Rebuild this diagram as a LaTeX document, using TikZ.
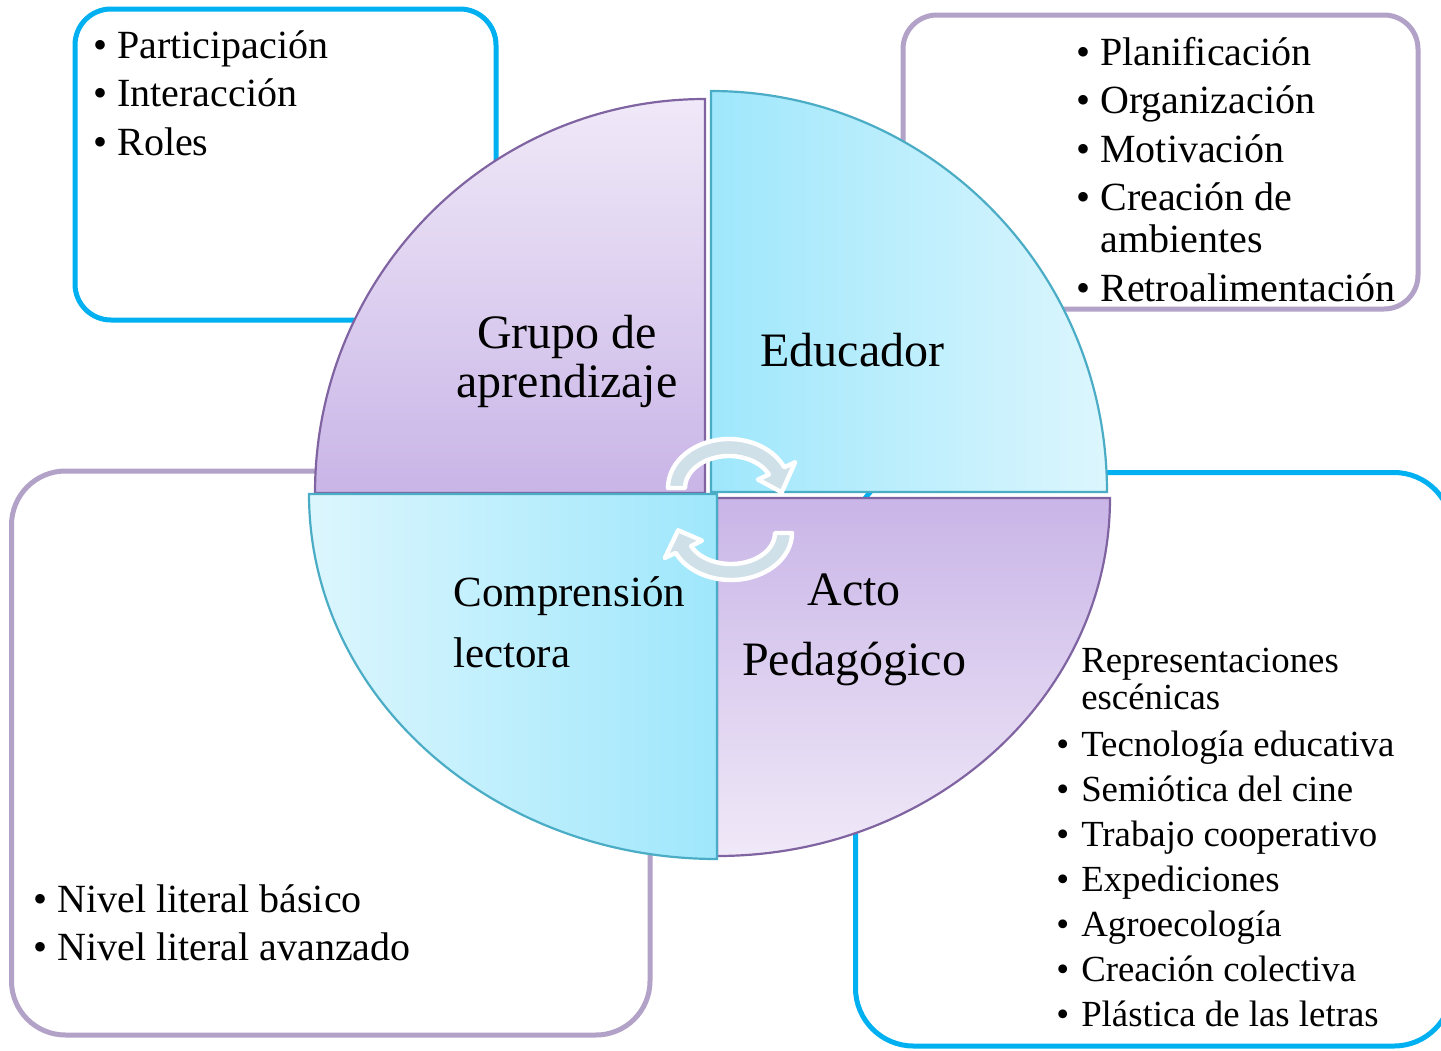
\documentclass[tikz,border=0pt]{standalone}
\usepackage{fontspec}
\setmainfont{Liberation Serif}
\definecolor{boxcyan}{HTML}{00B0F0}
\definecolor{boxlilac}{HTML}{B3A2C7}
\definecolor{quadlilac}{HTML}{8064A2}
\definecolor{quadsky}{HTML}{4BACC6}
\definecolor{lilacdark}{HTML}{C9B5E7}
\definecolor{lilaclight}{HTML}{F0E9F8}
\definecolor{skydark}{HTML}{9FE7FC}
\definecolor{skylight}{HTML}{DCF6FD}
\definecolor{arrowgrey}{HTML}{D0E0E8}
\newcommand\quadrant{}
\def\quadrant[#1](#2)(#3:#4:#5:#6){% \quadrant[draw options](corner)(start angle:end angle:x radius:y radius)
\draw [#1,
       shift={(#2)}] (0,0) -- (#3:#5 and #6)
       arc[start angle=#3, end angle=#4, x radius=#5, y radius=#6] -- cycle
}

\begin{document}
\begin{tikzpicture}[x=0.5pt, y=-0.5pt,
  cyanbox/.style={draw=boxcyan, line width=2.5pt, rounded corners=#1},
  lilacbox/.style={draw=boxlilac, line width=2.5pt, rounded corners=#1},
  lilacquad/.style={draw=quadlilac, line width=1.1pt},
  skyquad/.style={draw=quadsky, line width=1.1pt},
  cyclearrow/.style={fill=arrowgrey, draw=white, line width=2.2pt, line join=round},
  listtext/.style={anchor=base west, inner sep=0pt, font=\fontsize{20}{24.25}\selectfont},
  quadtext/.style={inner sep=0pt, font=\fontsize{24}{24.5}\selectfont}]
	\useasboundingbox (0,0) rectangle (1441,1050);
	%% outer boxes
	\draw[cyanbox=18pt] (75,9) rectangle (496,320);
	\draw[lilacbox=17pt] (903,15) rectangle (1418,309);
	\draw[lilacbox=27pt] (11.5,471) rectangle (650,1035);
	\draw[cyanbox=29pt] (855.5,472.5) rectangle (1452,1046);
	%% circle in four parts
	\quadrant[lilacquad, top color=lilaclight, bottom color=lilacdark](705,493)(180:270:390:394);
	\quadrant[skyquad, left color=skydark, right color=skylight](711,492)(270:360:396:401);
	\quadrant[lilacquad, top color=lilacdark, bottom color=lilaclight](717,498)(0:90:393:358);
	\quadrant[skyquad, left color=skylight, right color=skydark](717,494)(90:180:408:365);
	%% cycle arrows
	\draw[cyclearrow, shift={(729,488)}] (180:61 and 49)
		arc[start angle=180, end angle=335, x radius=61, y radius=49]
		-- (335:73 and 61) -- (6:53 and 41) -- (335:32 and 20) -- (335:44 and 32)
		arc[start angle=335, end angle=180, x radius=44, y radius=32] -- cycle;
	\draw[cyclearrow, shift={(731,533)}] (0:61 and 47)
		arc[start angle=0, end angle=155, x radius=61, y radius=47]
		-- (155:73 and 59) -- (184:53 and 39) -- (155:32 and 18) -- (155:44 and 31)
		arc[start angle=155, end angle=0, x radius=44, y radius=31] -- cycle;
	%% labels in the circle
	\node[quadtext, anchor=base] (grupo) at (567,348)
		{\begin{tabular}[t]{@{}c@{}}Grupo de\\ aprendizaje\end{tabular}};
	\node[quadtext, anchor=base west] (educador) at (760,366) {Educador};
	\node[quadtext, anchor=base west, font=\fontsize{21.5}{30.5}\selectfont] (comprension) at (453,606)
		{\begin{tabular}[t]{@{}l@{}}Comprensión\\ lectora\end{tabular}};
	\node[quadtext, anchor=base, font=\fontsize{24}{35}\selectfont] (acto) at (854,605)
		{\begin{tabular}[t]{@{}c@{}}Acto\\ Pedagógico\end{tabular}};
	%% lists in the boxes
	\node[listtext] (grupolist) at (93,58)
		{\begin{tabular}[t]{@{}l@{\hspace{5pt}}l@{}}
		\textbullet & Participación\\
		\textbullet & Interacción\\
		\textbullet & Roles
		\end{tabular}};
	\node[listtext, font=\fontsize{20}{21}\selectfont] (educlist) at (1076,65)
		{\begin{tabular}[t]{@{}l@{\hspace{5pt}}l@{}}
		\textbullet & Planificación\\[3.25pt]
		\textbullet & Organización\\[3.25pt]
		\textbullet & Motivación\\[3.25pt]
		\textbullet & Creación de\\
		 & ambientes\\[3.25pt]
		\textbullet & Retroalimentación
		\end{tabular}};
	\node[listtext] (comprlist) at (33,912)
		{\begin{tabular}[t]{@{}l@{\hspace{5pt}}l@{}}
		\textbullet & Nivel literal básico\\
		\textbullet & Nivel literal avanzado
		\end{tabular}};
	\node[listtext, font=\fontsize{18.4}{18.5}\selectfont] (actolist) at (1056,672)
		{\begin{tabular}[t]{@{}l@{\hspace{6pt}}l@{}}
		 & Representaciones\\
		 & escénicas\\[5pt]
		\textbullet & Tecnología educativa\\[4pt]
		\textbullet & Semiótica del cine\\[4pt]
		\textbullet & Trabajo cooperativo\\[4pt]
		\textbullet & Expediciones\\[4pt]
		\textbullet & Agroecología\\[4pt]
		\textbullet & Creación colectiva\\[4pt]
		\textbullet & Plástica de las letras
		\end{tabular}};
\end{tikzpicture}
\end{document}
